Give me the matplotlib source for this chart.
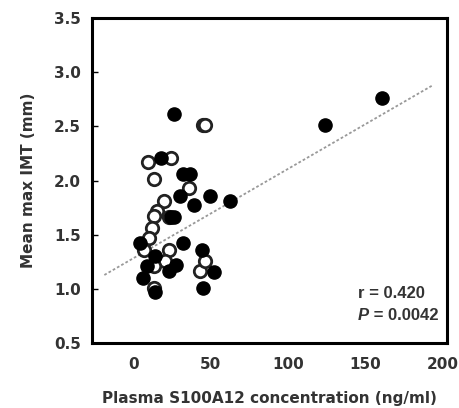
import numpy as np
import matplotlib
matplotlib.use("Agg")
import matplotlib.pyplot as plt

plt.rcParams["font.family"] = ["DejaVu Sans"]

# filled circles
filled_x = [26, 18, 32, 36.5, 30, 49.5, 38.8, 62.5, 26, 24, 160.5, 124,
            4.3, 32, 44, 51.7, 44.8, 6, 14, 14, 8.6, 22.6, 27.6]
filled_y = [2.61, 2.21, 2.06, 2.06, 1.86, 1.86, 1.77, 1.81, 1.66, 1.66, 2.76, 2.51,
            1.42, 1.42, 1.36, 1.16, 1.01, 1.10, 0.97, 1.30, 1.21, 1.17, 1.22]

# open circles
open_x = [45, 46.5, 9, 24.4, 12.9, 36, 19.4, 15, 12.9, 11.9, 9.7, 6.5,
          22.6, 20.5, 12.9, 42.7, 46.3, 12.9, 23]
open_y = [2.51, 2.51, 2.17, 2.21, 2.01, 1.93, 1.81, 1.72, 1.67, 1.56, 1.47, 1.36,
          1.36, 1.26, 1.21, 1.17, 1.26, 1.01, 1.66]

# regression line
line_x = [-19, 193]
slope, intercept = 0.00823, 1.285

fig = plt.figure(figsize=(4.6, 4.08), dpi=100)
ax = fig.add_axes([0.2, 0.159, 0.772, 0.797])

lx = np.array(line_x)
ax.plot(lx, intercept + slope * lx, linestyle=(0, (1.5, 1.2)), color="#999999",
        linewidth=1.3, zorder=1)

ax.scatter(filled_x, filled_y, s=90, color="black", zorder=3)
ax.scatter(open_x, open_y, s=80, facecolor="white", edgecolor="#222222",
           linewidth=2, zorder=2)

ax.set_xlim(-27, 203)
ax.set_ylim(0.5, 3.5)
ax.set_xticks([0, 50, 100, 150, 200])
ax.set_yticks([0.5, 1.0, 1.5, 2.0, 2.5, 3.0, 3.5])
ax.set_yticklabels(["0.5", "1.0", "1.5", "2.0", "2.5", "3.0", "3.5"])

for s in ax.spines.values():
    s.set_linewidth(2.2)
ax.tick_params(axis="y", direction="in", length=4, width=1, pad=8,
               labelsize=11, labelcolor="#333333")
ax.tick_params(axis="x", direction="in", length=0, pad=10,
               labelsize=11, labelcolor="#333333")
for lab in ax.get_xticklabels() + ax.get_yticklabels():
    lab.set_fontweight("bold")

ax.set_xlabel("Plasma S100A12 concentration (ng/ml)", fontsize=11,
              fontweight="bold", color="#333333", labelpad=14)
ax.set_ylabel("Mean max IMT (mm)", fontsize=11, fontweight="bold",
              color="#333333", labelpad=13)

ax.text(0.749, 0.138, "r = 0.420", transform=ax.transAxes, ha="left",
        fontsize=12, fontweight="bold", color="#333333", family="Liberation Sans")
ax.text(0.749, 0.071, "P", transform=ax.transAxes, ha="left",
        fontsize=12, fontweight="bold", fontstyle="italic", color="#333333",
        family="Liberation Sans")
ax.text(0.749 + 0.031, 0.071, " = 0.0042", transform=ax.transAxes, ha="left",
        fontsize=12, fontweight="bold", color="#333333", family="Liberation Sans")

fig.savefig("out.png", dpi=100)
